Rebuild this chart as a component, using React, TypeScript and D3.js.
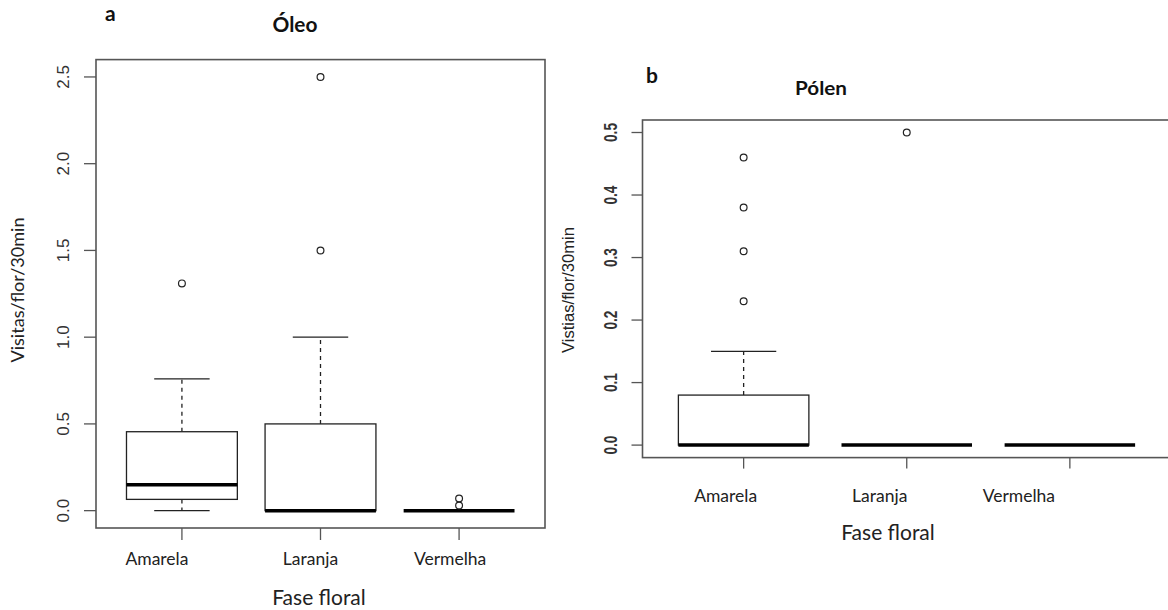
import React from 'react';
import * as d3 from 'd3';

// categories (floral phase)
const categories = ['Amarela', 'Laranja', 'Vermelha'];

// panel a: Óleo (visits/flower/30min)
const oleoLower = [0, 0, 0];
const oleoQ1 = [0.065, 0, 0];
const oleoMedian = [0.15, 0, 0];
const oleoQ3 = [0.455, 0.5, 0];
const oleoUpper = [0.76, 1.0, 0];
const oleoOutliers = [[1.31], [1.5, 2.5], [0.03, 0.07]];
const oleoTicks = [0, 0.5, 1, 1.5, 2, 2.5];

// panel b: Pólen
const polenLower = [0, 0, 0];
const polenQ1 = [0, 0, 0];
const polenMedian = [0, 0, 0];
const polenQ3 = [0.08, 0, 0];
const polenUpper = [0.15, 0, 0];
const polenOutliers = [[0.23, 0.31, 0.38, 0.46], [0.5], []];
const polenTicks = [0, 0.1, 0.2, 0.3, 0.4, 0.5];

const SANS = 'Lato, "Open Sans", sans-serif';
const ARIAL = '"Liberation Sans", Arial, sans-serif';

type PanelProps = {
  letter: string;
  title: string;
  yLabel: string;
  lower: number[];
  q1: number[];
  median: number[];
  q3: number[];
  upper: number[];
  outliers: number[][];
  ticks: number[];
  yDomain: [number, number];
  frame: { left: number; right: number; top: number; bottom: number };
  letterPos: [number, number];
  titlePos: [number, number];
  titleSize: number;
  titleLen: number;
  yLabelPos: [number, number];
  yLabelLen: number;
  yLabelFont: string;
  yLabelSize: number;
  tickLabelX: number;
  tickLabelSize: number;
  tickLabelLen?: number;
  tickLabelWeight?: number;
  tickLen: number;
  catShift: number[];
  catBaseline: number;
  xTitlePos: [number, number];
};

const Panel = (p: PanelProps) => {
  const { frame } = p;
  const x = d3.scaleLinear().domain([0.38, 3.62]).range([frame.left, frame.right]);
  const y = d3.scaleLinear().domain(p.yDomain).range([frame.bottom, frame.top]);
  const half = x(1.4) - x(1); // boxwex 0.8
  const cap = half / 2;       // staplewex 0.5

  return (
    <g>
      <text x={p.letterPos[0]} y={p.letterPos[1]} fontFamily={SANS} fontWeight={700} fontSize={21} fill="#111">
        {p.letter}
      </text>
      <text x={p.titlePos[0]} y={p.titlePos[1]} textAnchor="middle" fontFamily={SANS} fontWeight={700}
        fontSize={p.titleSize} fill="#111" textLength={p.titleLen} lengthAdjust="spacingAndGlyphs">
        {p.title}
      </text>

      {/* boxes */}
      {categories.map((c, i) => {
        const cx = x(i + 1);
        return (
          <g key={c}>
            <line x1={cx} x2={cx} y1={y(p.q3[i])} y2={y(p.upper[i])} stroke="#222" strokeWidth={1.3} strokeDasharray="4,4" />
            <line x1={cx} x2={cx} y1={y(p.q1[i])} y2={y(p.lower[i])} stroke="#222" strokeWidth={1.3} strokeDasharray="4,4" />
            <line x1={cx - cap} x2={cx + cap} y1={y(p.upper[i])} y2={y(p.upper[i])} stroke="#222" strokeWidth={1.3} />
            <line x1={cx - cap} x2={cx + cap} y1={y(p.lower[i])} y2={y(p.lower[i])} stroke="#222" strokeWidth={1.3} />
            <rect x={cx - half} y={y(p.q3[i])} width={half * 2} height={Math.max(0, y(p.q1[i]) - y(p.q3[i]))}
              fill="#fff" stroke="#222" strokeWidth={1.3} />
            <line x1={cx - half} x2={cx + half} y1={y(p.median[i])} y2={y(p.median[i])} stroke="#000" strokeWidth={3.5} />
            {p.outliers[i].map((v, j) => (
              <circle key={j} cx={cx} cy={y(v)} r={3.4} fill="none" stroke="#222" strokeWidth={1.2} />
            ))}
          </g>
        );
      })}

      {/* frame */}
      <rect x={frame.left} y={frame.top} width={frame.right - frame.left} height={frame.bottom - frame.top}
        fill="none" stroke="#555" strokeWidth={1.6} />

      {/* y axis */}
      {p.ticks.map(t => (
        <g key={t}>
          <line x1={frame.left - p.tickLen} x2={frame.left} y1={y(t)} y2={y(t)} stroke="#555" strokeWidth={1.3} />
          <text transform={`translate(${p.tickLabelX},${y(t)}) rotate(-90)`} textAnchor="middle"
            fontFamily={ARIAL} fontSize={p.tickLabelSize} fontWeight={p.tickLabelWeight ?? 400} fill="#333"
            textLength={p.tickLabelLen} lengthAdjust={p.tickLabelLen ? 'spacingAndGlyphs' : undefined}>
            {t.toFixed(1)}
          </text>
        </g>
      ))}
      <text transform={`translate(${p.yLabelPos[0]},${p.yLabelPos[1]}) rotate(-90)`} textAnchor="middle"
        fontFamily={p.yLabelFont} fontSize={p.yLabelSize} fill="#222"
        textLength={p.yLabelLen} lengthAdjust="spacingAndGlyphs">
        {p.yLabel}
      </text>

      {/* x axis */}
      {categories.map((c, i) => (
        <g key={c}>
          <line x1={x(i + 1)} x2={x(i + 1)} y1={frame.bottom} y2={frame.bottom + p.tickLen} stroke="#555" strokeWidth={1.3} />
          <text x={x(i + 1) + p.catShift[i]} y={p.catBaseline} textAnchor="middle" fontFamily={SANS} fontSize={17.5} fill="#222">
            {c}
          </text>
        </g>
      ))}
      <text x={p.xTitlePos[0]} y={p.xTitlePos[1]} textAnchor="middle" fontFamily={SANS} fontSize={21} fill="#222">
        Fase floral
      </text>
    </g>
  );
};

export default function App() {
  return (
    <svg width={1168} height={610} style={{ position: 'absolute', left: 0, top: 0, background: '#fff' }}>
      <rect width={1168} height={610} fill="#fff" />
      <Panel
        letter="a" title="Óleo" yLabel="Visitas/flor/30min"
        lower={oleoLower} q1={oleoQ1} median={oleoMedian} q3={oleoQ3} upper={oleoUpper}
        outliers={oleoOutliers} ticks={oleoTicks} yDomain={[-0.1, 2.6]}
        frame={{ left: 96, right: 545, top: 59.6, bottom: 528 }}
        letterPos={[105, 21]} titlePos={[295, 31.5]} titleSize={21} titleLen={45}
        yLabelPos={[24, 290]} yLabelLen={145} yLabelFont={SANS} yLabelSize={17}
        tickLabelX={69} tickLabelSize={17} tickLen={12}
        catShift={[-25, -10, -9]} catBaseline={565}
        xTitlePos={[319, 605]}
      />
      <Panel
        letter="b" title="Pólen" yLabel="Vistias/flor/30min"
        lower={polenLower} q1={polenQ1} median={polenMedian} q3={polenQ3} upper={polenUpper}
        outliers={polenOutliers} ticks={polenTicks} yDomain={[-0.02, 0.52]}
        frame={{ left: 642.5, right: 1171, top: 120, bottom: 457.6 }}
        letterPos={[646, 83]} titlePos={[821, 95]} titleSize={19} titleLen={52}
        yLabelPos={[574, 290]} yLabelLen={126} yLabelFont={ARIAL} yLabelSize={16}
        tickLabelX={616.5} tickLabelSize={19} tickLabelLen={19} tickLabelWeight={700} tickLen={11}
        catShift={[-18, -27, -51]} catBaseline={501.5}
        xTitlePos={[888, 540]}
      />
    </svg>
  );
}
